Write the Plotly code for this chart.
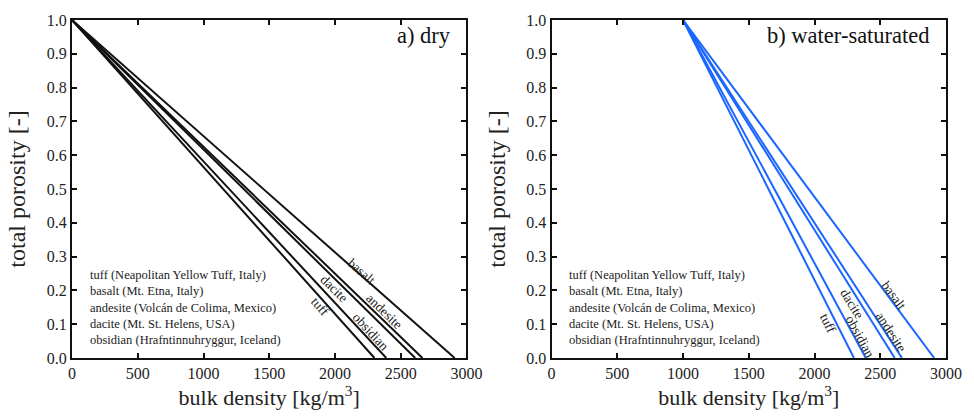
import math
import plotly.graph_objects as go

# ---- data ----
rocks = ["tuff", "obsidian", "dacite", "andesite", "basalt"]
grain_density = [2300, 2390, 2610, 2665, 2910]          # kg/m3 (x-intercepts)
dry_start_density = 0                                   # kg/m3 at porosity 1 (dry)
wet_start_density = 1000                                # kg/m3 at porosity 1 (water-saturated)
legend_lines = [
    "tuff (Neapolitan Yellow Tuff, Italy)",
    "basalt (Mt. Etna, Italy)",
    "andesite (Volcán de Colima, Mexico)",
    "dacite (Mt. St. Helens, USA)",
    "obsidian (Hrafntinnuhryggur, Iceland)",
]
# label positions (data coords)
dry_label_x = [1885, 2271, 1992, 2376, 2203]
dry_label_y = [0.151, 0.079, 0.205, 0.137, 0.257]
wet_label_x = [2103, 2346, 2283, 2579, 2604]
wet_label_y = [0.102, 0.063, 0.161, 0.078, 0.185]
x_ticks = [0, 500, 1000, 1500, 2000, 2500, 3000]
y_ticks = [0.0, 0.1, 0.2, 0.3, 0.4, 0.5, 0.6, 0.7, 0.8, 0.9, 1.0]

# ---- layout geometry ----
W, H = 974, 418
ML, MR, MT, MB = 72, 18, 18, 58
plot_w = W - ML - MR
dom_a = [0, (471 - ML) / plot_w]
dom_b = [(557 - ML) / plot_w, 1]
ax_px_w = (471 - ML)
ax_px_h = H - MT - MB

FONT = "Liberation Serif"
BLACK = "#111111"
BLUE = "#1a66ff"

fig = go.Figure()

def angle(x0, x1):
    dx = (x1 - x0) / 3000 * ax_px_w
    return math.degrees(math.atan2(ax_px_h, dx))

for i, r in enumerate(rocks):
    fig.add_trace(go.Scatter(x=[dry_start_density, grain_density[i]], y=[1, 0],
                             mode="lines", line=dict(color=BLACK, width=2),
                             xaxis="x", yaxis="y", showlegend=False, name=r))
    fig.add_trace(go.Scatter(x=[wet_start_density, grain_density[i]], y=[1, 0],
                             mode="lines", line=dict(color=BLUE, width=2),
                             xaxis="x2", yaxis="y2", showlegend=False, name=r))

annotations = []
for i, r in enumerate(rocks):
    annotations.append(dict(x=dry_label_x[i], y=dry_label_y[i], xref="x", yref="y",
                            text=r, showarrow=False,
                            textangle=angle(dry_start_density, grain_density[i]),
                            font=dict(family=FONT, size=13.5, color="#222")))
    annotations.append(dict(x=wet_label_x[i], y=wet_label_y[i], xref="x2", yref="y2",
                            text=r, showarrow=False,
                            textangle=angle(wet_start_density, grain_density[i]),
                            font=dict(family=FONT, size=13.5, color="#222")))

legend_text = "<br>".join(legend_lines)
for xr, yr, x0 in (("x", "y", 125), ("x2", "y2", 120)):
    annotations.append(dict(x=x0, y=0.026, xref=xr, yref=yr, xanchor="left", yanchor="bottom",
                            text=legend_text, showarrow=False, align="left",
                            font=dict(family=FONT, size=12.5, color="#222")))

annotations.append(dict(x=2900, y=0.955, xref="x", yref="y", xanchor="right", yanchor="middle",
                        text="a) dry", showarrow=False,
                        font=dict(family=FONT, size=22.5, color="#111")))
annotations.append(dict(x=2890, y=0.955, xref="x2", yref="y2", xanchor="right", yanchor="middle",
                        text="b) water-saturated", showarrow=False,
                        font=dict(family=FONT, size=22.5, color="#111")))

axis_common = dict(range=[0, 3000], tickvals=x_ticks, ticks="inside", ticklen=5,
                   tickwidth=1.5, tickcolor=BLACK, showline=True, linecolor=BLACK,
                   linewidth=2, mirror="ticks", showgrid=False, zeroline=False,
                   tickfont=dict(family=FONT, size=16, color="#222"),
                   title=dict(text="bulk density [kg/m<sup>3</sup>]",
                              font=dict(family=FONT, size=22, color="#222"), standoff=8))
yaxis_common = dict(range=[0, 1], tickvals=y_ticks, tickformat=".1f", ticks="inside",
                    ticklen=5, tickwidth=1.5, tickcolor=BLACK, showline=True,
                    linecolor=BLACK, linewidth=2, mirror="ticks", showgrid=False,
                    zeroline=False, tickfont=dict(family=FONT, size=16, color="#222"),
                    title=dict(text="total porosity [-]",
                               font=dict(family=FONT, size=24, color="#222"), standoff=14))

fig.update_layout(
    width=W, height=H,
    margin=dict(l=ML, r=MR, t=MT, b=MB),
    paper_bgcolor="white", plot_bgcolor="white",
    xaxis=dict(domain=dom_a, anchor="y", **axis_common),
    yaxis=dict(domain=[0, 1], anchor="x", **yaxis_common),
    xaxis2=dict(domain=dom_b, anchor="y2", **axis_common),
    yaxis2=dict(domain=[0, 1], anchor="x2", **yaxis_common),
    annotations=annotations,
    showlegend=False,
)

fig.write_html("out.html")
